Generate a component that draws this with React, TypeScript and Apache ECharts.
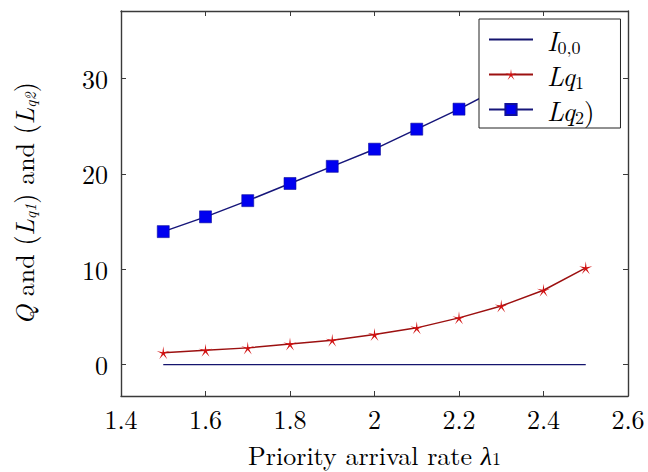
import React, { useEffect, useRef } from "react";
import * as echarts from "echarts";

const xValues = [1.5, 1.6, 1.7, 1.8, 1.9, 2.0, 2.1, 2.2, 2.3, 2.4, 2.5];
const i00Values = [0, 0, 0, 0, 0, 0, 0, 0, 0, 0, 0];
const lq1Values = [1.25, 1.5, 1.75, 2.15, 2.55, 3.15, 3.85, 4.9, 6.15, 7.8, 10.15];
const lq2Values = [13.95, 15.5, 17.2, 19.0, 20.8, 22.6, 24.7, 26.8, 29.1, 31.5, 34.0];
const xTickLabels = [1.4, 1.6, 1.8, 2.0, 2.2, 2.4, 2.6];
const xInnerTicks = [1.6, 1.8, 2.0, 2.2, 2.4];
const yTickLabels = [0, 10, 20, 30];

const FONT = "Latin Modern Roman";

function starPath(): string {
  let d = "path://";
  for (let k = 0; k < 10; k++) {
    const r = k % 2 ? 0.2 : 1;
    const a = -Math.PI / 2 + (k * Math.PI) / 5;
    const x = (50 + 50 * r * Math.cos(a)).toFixed(2);
    const y = (50 + 50 * r * Math.sin(a)).toFixed(2);
    d += (k === 0 ? "M" : "L") + x + " " + y + " ";
  }
  return d + "Z";
}

const pairs = (ys: number[]) => xValues.map((x, i) => [x, ys[i]]);

const legendLabels: Record<string, string> = {
  I00: "{g|}{i|I}{s|0,0}",
  Lq1: "{g|}{i|Lq}{s|1}",
  Lq2: "{g|}{i|Lq}{s|2}{r|)}",
};

export default function App() {
  const ref = useRef<HTMLDivElement>(null);
  useEffect(() => {
    document.body.style.margin = "0";
    const chart = echarts.init(ref.current!, undefined, { renderer: "svg" });
    const axisLine = { show: true, onZero: false, lineStyle: { color: "#3a3a3a", width: 1.4 } };
    const tick = (vals: number[]) => ({
      show: true,
      inside: true,
      length: 5,
      customValues: vals,
      lineStyle: { color: "#3a3a3a", width: 1 },
    });
    chart.setOption({
      animation: false,
      backgroundColor: "#fff",
      textStyle: { fontFamily: FONT, color: "#000" },
      grid: { left: 121, right: 20, top: 11, bottom: 72, containLabel: false },
      legend: {
        orient: "vertical",
        left: 479,
        top: 19,
        backgroundColor: "#fff",
        borderColor: "#222",
        borderWidth: 1,
        padding: [5, 26, 3, 9],
        itemGap: 4,
        itemWidth: 44,
        itemHeight: 14,
        z: 10,
        formatter: (name: string) => legendLabels[name],
        textStyle: {
          fontFamily: FONT,
          fontSize: 27,
          lineHeight: 31,
          color: "#000",
          rich: {
            g: { width: 9, lineHeight: 31 },
            i: { fontFamily: FONT, fontSize: 27, fontStyle: "italic", lineHeight: 31, color: "#000" },
            r: { fontFamily: FONT, fontSize: 27, lineHeight: 31, color: "#000" },
            s: { fontFamily: FONT, fontSize: 18, lineHeight: 18, verticalAlign: "bottom", color: "#000" },
          },
        },
        data: [
          { name: "I00", itemStyle: { opacity: 0 } },
          { name: "Lq1" },
          { name: "Lq2" },
        ],
      },
      xAxis: [
        {
          type: "value",
          min: 1.4,
          max: 2.6,
          position: "bottom",
          splitLine: { show: false },
          axisLine,
          axisTick: tick(xInnerTicks),
          axisLabel: {
            show: true,
            customValues: xTickLabels,
            margin: 10,
            fontFamily: FONT,
            fontSize: 26,
            lineHeight: 24,
            color: "#000",
            formatter: (v: number) => String(+v.toFixed(1)),
          },
          name: "Priority arrival rate {m|λ}{s|1}",
          nameLocation: "middle",
          nameGap: 46,
          nameTextStyle: {
            fontFamily: FONT,
            fontSize: 26,
            lineHeight: 24,
            color: "#000",
            rich: {
              m: { fontFamily: FONT, fontSize: 26, fontStyle: "italic", lineHeight: 24, color: "#000" },
              s: { fontFamily: FONT, fontSize: 18, lineHeight: 14, verticalAlign: "bottom", color: "#000" },
            },
          },
        },
        {
          type: "value",
          min: 1.4,
          max: 2.6,
          position: "top",
          splitLine: { show: false },
          axisLine,
          axisTick: tick(xInnerTicks),
          axisLabel: { show: false },
        },
      ],
      yAxis: [
        {
          type: "value",
          min: -3.3,
          max: 37.1,
          position: "left",
          splitLine: { show: false },
          axisLine,
          axisTick: tick(yTickLabels),
          axisLabel: {
            show: true,
            customValues: yTickLabels,
            margin: 13,
            fontFamily: FONT,
            fontSize: 26,
            color: "#000",
          },
          name: "{i|Q} and ({i|L}{s|q1}) and ({i|L}{s|q2})",
          nameLocation: "middle",
          nameGap: 84,
          nameRotate: 90,
          nameTextStyle: {
            fontFamily: FONT,
            fontSize: 26,
            color: "#000",
            rich: {
              i: { fontFamily: FONT, fontSize: 26, fontStyle: "italic", lineHeight: 28, color: "#000" },
              s: { fontFamily: FONT, fontSize: 16, fontStyle: "italic", lineHeight: 14, verticalAlign: "bottom", color: "#000" },
            },
          },
        },
        {
          type: "value",
          min: -3.3,
          max: 37.1,
          position: "right",
          splitLine: { show: false },
          axisLine,
          axisTick: tick(yTickLabels),
          axisLabel: { show: false },
        },
      ],
      series: [
        {
          name: "I00",
          type: "line",
          data: pairs(i00Values),
          showSymbol: false,
          symbol: "none",
          lineStyle: { color: "#14146e", width: 1.3 },
          itemStyle: { color: "#14146e" },
        },
        {
          name: "Lq1",
          type: "line",
          data: pairs(lq1Values),
          symbol: starPath(),
          symbolSize: 13,
          lineStyle: { color: "#9c1010", width: 1.5 },
          itemStyle: { color: "#d01010" },
        },
        {
          name: "Lq2",
          type: "line",
          data: pairs(lq2Values),
          symbol: "rect",
          symbolSize: 12,
          lineStyle: { color: "#16167a", width: 1.5 },
          itemStyle: { color: "#0000f0", borderColor: "#10109a", borderWidth: 0.6 },
        },
      ],
    });
    return () => chart.dispose();
  }, []);
  return <div ref={ref} style={{ width: 648, height: 472 }} />;
}
